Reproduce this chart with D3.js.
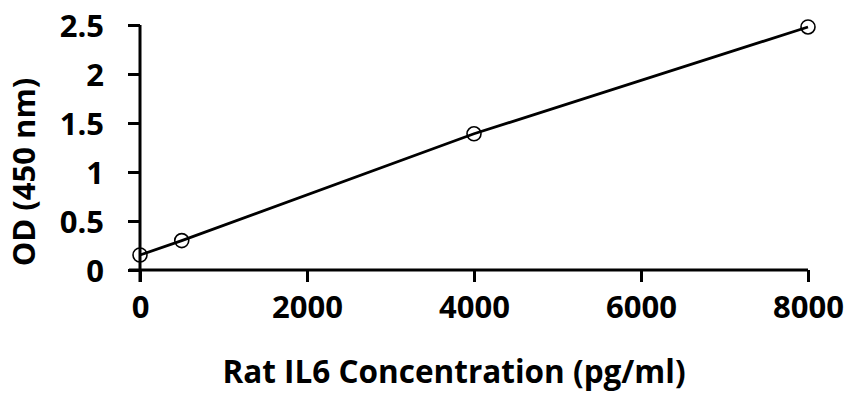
<!DOCTYPE html>
<html>
<head>
<meta charset="utf-8">
<script src="https://cdn.jsdelivr.net/npm/d3@7"></script>
<style>
  body { margin: 0; background: #fff; }
  text { font-family: "Open Sans", sans-serif; font-weight: 700; fill: #000; }
</style>
</head>
<body>
<script>
// standard curve values
const concentrations = [0, 500, 4000, 8000];
const odValues = [0.153, 0.30, 1.39, 2.48];
const xTicks = [0, 2000, 4000, 6000, 8000];
const yTicks = [0, 0.5, 1, 1.5, 2, 2.5];

const w = 853;
const h = 397;

let svg = d3.select("body")
  .append("svg")
  .attr("width", w)
  .attr("height", h);

// scales
let xScale = d3.scaleLinear().domain([0, 8000]).range([140, 808]);
let yScale = d3.scaleLinear().domain([0, 2.5]).range([270, 25]);

// x axis
let xAxis = svg.append("g")
  .attr("transform", "translate(0,270)")
  .call(d3.axisBottom(xScale).tickValues(xTicks).tickSize(12).tickPadding(14)
    .tickFormat(d3.format("d")));
xAxis.select(".domain").attr("d", "M129,0H808");

// y axis
let yAxis = svg.append("g")
  .attr("transform", "translate(140,0)")
  .call(d3.axisLeft(yScale).tickValues(yTicks).tickSize(12).tickPadding(24)
    .tickFormat(d => d));
yAxis.select(".domain").attr("d", "M0,25V282");

svg.selectAll(".domain, .tick line")
  .attr("stroke", "#000")
  .attr("stroke-width", 3);
svg.selectAll(".tick text")
  .style("font-size", "31px");
xAxis.selectAll(".tick text").attr("dy", "0.71em");
yAxis.selectAll(".tick text").attr("dy", "0.36em");

// data line and markers
let data = concentrations.map((c, i) => [c, odValues[i]]);
let line = d3.line()
  .x(d => xScale(d[0]))
  .y(d => yScale(d[1]));

svg.append("path")
  .datum(data)
  .attr("d", line)
  .attr("fill", "none")
  .attr("stroke", "#000")
  .attr("stroke-width", 2.8);

svg.selectAll("circle")
  .data(data)
  .enter()
  .append("circle")
  .attr("cx", d => xScale(d[0]))
  .attr("cy", d => yScale(d[1]))
  .attr("r", 7)
  .attr("fill", "none")
  .attr("stroke", "#000")
  .attr("stroke-width", 1.6);

// axis titles
svg.append("text")
  .attr("x", 454)
  .attr("y", 383)
  .style("text-anchor", "middle")
  .style("font-size", "31.5px")
  .text("Rat IL6 Concentration (pg/ml)");

svg.append("text")
  .attr("transform", "translate(35,172) rotate(-90)")
  .style("text-anchor", "middle")
  .style("font-size", "31px")
  .text("OD (450 nm)");
</script>
</body>
</html>
